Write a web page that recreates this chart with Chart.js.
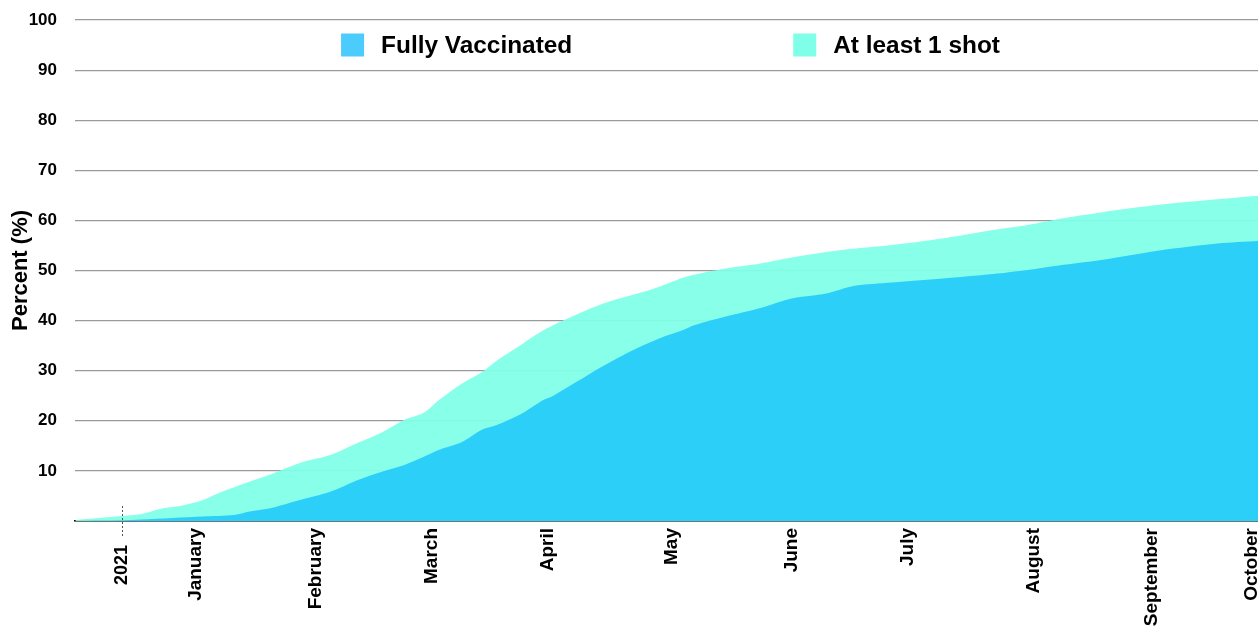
<!DOCTYPE html>
<html>
<head>
<meta charset="utf-8">
<script src="https://cdn.jsdelivr.net/npm/chart.js@4/dist/chart.umd.min.js"></script>
<style>
  html, body { margin: 0; padding: 0; background: #ffffff; overflow: hidden; }
  #wrap { position: relative; width: 1258px; height: 626px; }
</style>
</head>
<body>
<div id="wrap"><canvas id="chart" width="1258" height="626"></canvas></div>
<script>
// Days counted from 1 January 2021 (negative = December 2020)
const fullDays = [-12, 0, 5, 21, 29, 33, 38, 46, 54, 61, 67, 73, 78, 82, 88, 93, 97, 103, 109, 111, 116, 124, 132, 139, 145, 148, 156, 165, 173, 182, 189, 199, 212, 225, 234, 242, 253, 268, 283, 293.5];
const fullPct = [0, 0.1, 0.3, 0.9, 1.2, 1.9, 2.5, 4.2, 5.9, 8.2, 9.8, 11.2, 12.8, 14.2, 15.8, 18.2, 19.2, 21.3, 24.2, 24.8, 27.1, 30.8, 34.1, 36.5, 38.1, 39.1, 40.8, 42.5, 44.4, 45.4, 46.9, 47.6, 48.4, 49.3, 50.1, 51.0, 52.1, 54.0, 55.4, 55.9];

const shotDays = [-12, 0, 5, 11, 15, 21, 25, 32, 38, 46, 54, 61, 67, 73, 78, 82, 88, 93, 97, 103, 109, 116, 124, 129, 136, 139, 146, 156, 165, 173, 186, 199, 212, 225, 234, 242, 253, 268, 283, 293.5];
const shotPct = [0.2, 1.0, 1.4, 2.6, 3.0, 4.2, 5.6, 7.6, 9.2, 11.6, 13.2, 15.6, 17.6, 20.2, 21.6, 24.2, 27.5, 29.7, 32.1, 35.1, 38.1, 40.7, 43.3, 44.5, 46.0, 46.8, 48.8, 50.4, 51.4, 52.6, 54.1, 55.1, 56.4, 58.1, 59.1, 60.3, 61.6, 63.1, 64.2, 64.9];

const seriesNames = ['Fully Vaccinated', 'At least 1 shot'];

// Month label positions (days from 1 January 2021) and their names
const monthDays = [19, 50, 80, 110, 142, 173, 203, 235.5, 266, 292];
const monthNames = ['January', 'February', 'March', 'April', 'May', 'June', 'July', 'August', 'September', 'October'];

// Year marker
const yearDay = 0;
const yearLabel = '2021';

const yTicks = [0, 10, 20, 30, 40, 50, 60, 70, 80, 90, 100];
const yTitle = 'Percent (%)';

const FONT = "'Liberation Sans', Arial, Helvetica, sans-serif";

const toPoints = (xs, ys) => xs.map((x, i) => ({ x: x, y: ys[i] }));

// Legend drawn inside the top of the plot area
const areaLegend = {
  id: 'areaLegend',
  afterDraw(chart, args, opts) {
    const ctx = chart.ctx;
    const area = chart.chartArea;
    const box = opts.box, gap = opts.gap, spacing = opts.spacing;
    ctx.save();
    ctx.font = 'bold ' + opts.fontSize + 'px ' + FONT;
    const items = chart.data.datasets.map(ds => ({ text: ds.label, color: ds.legendColor || ds.backgroundColor }));
    const widths = items.map(it => box + gap + ctx.measureText(it.text).width);
    const total = widths.reduce((a, b) => a + b, 0) + spacing * (items.length - 1);
    let x = (area.left + area.right) / 2 - total / 2 + opts.shift;
    const cy = area.top + opts.offsetY;
    items.forEach((it, i) => {
      ctx.fillStyle = it.color;
      ctx.fillRect(x, cy - box / 2, box, box);
      ctx.fillStyle = '#000000';
      ctx.textBaseline = 'middle';
      ctx.textAlign = 'left';
      ctx.fillText(it.text, x + box + gap, cy + 1);
      x += widths[i] + spacing;
    });
    ctx.restore();
  }
};

// Year marker: dotted tick through the axis and its label below
const yearMarker = {
  id: 'yearMarker',
  afterDraw(chart) {
    const ctx = chart.ctx;
    const xs = chart.scales.x;
    const px = Math.round(xs.getPixelForValue(yearDay)) + 0.5;
    const base = chart.chartArea.bottom;
    ctx.save();
    ctx.strokeStyle = '#555555';
    ctx.lineWidth = 1;
    ctx.setLineDash([2, 2]);
    ctx.beginPath();
    ctx.moveTo(px, base - 15);
    ctx.lineTo(px, base + 17);
    ctx.stroke();
    ctx.setLineDash([]);
    ctx.translate(px, base + 24);
    ctx.rotate(-Math.PI / 2);
    ctx.font = 'bold 18px ' + FONT;
    ctx.fillStyle = '#000000';
    ctx.textAlign = 'right';
    ctx.textBaseline = 'middle';
    ctx.fillText(yearLabel, 0, 0);
    ctx.restore();
  }
};

new Chart(document.getElementById('chart'), {
  type: 'line',
  data: {
    datasets: [
      {
        label: seriesNames[0],
        data: toPoints(fullDays, fullPct),
        backgroundColor: 'rgba(38, 204, 250, 0.94)',
        legendColor: '#4ccbfd',
        borderWidth: 0,
        pointRadius: 0,
        fill: 'origin',
        tension: 0.3
      },
      {
        label: seriesNames[1],
        data: toPoints(shotDays, shotPct),
        backgroundColor: 'rgba(128, 255, 232, 0.94)',
        legendColor: '#80ffe8',
        borderWidth: 0,
        pointRadius: 0,
        fill: 'origin',
        tension: 0.3
      }
    ]
  },
  plugins: [areaLegend, yearMarker],
  options: {
    responsive: false,
    animation: false,
    events: [],
    layout: { padding: { top: 20, left: 0, right: 0, bottom: 0 } },
    plugins: {
      legend: { display: false },
      tooltip: { enabled: false },
      areaLegend: { box: 23, gap: 17, spacing: 221, fontSize: 24.4, offsetY: 25, shift: 4 }
    },
    scales: {
      x: {
        type: 'linear',
        min: -12.1,
        max: 293.5,
        grid: { display: false, drawTicks: false },
        border: { display: true, color: '#000000', width: 1.5 },
        afterBuildTicks(scale) {
          scale.ticks = monthDays.map(v => ({ value: v }));
        },
        afterFit(scale) {
          scale.height = 105;
          scale.paddingLeft = 0;
          scale.paddingRight = 0;
        },
        ticks: {
          autoSkip: false,
          minRotation: 90,
          maxRotation: 90,
          padding: 7,
          color: '#000000',
          font: { family: FONT, size: 19, weight: 'bold' },
          callback: (v, i) => monthNames[i]
        }
      },
      y: {
        min: 0,
        max: 100,
        afterBuildTicks(scale) {
          scale.ticks = yTicks.map(v => ({ value: v }));
        },
        afterFit(scale) {
          scale.width = 75;
          scale.paddingTop = 0;
          scale.paddingBottom = 0;
        },
        grid: { color: '#9a9a9a', lineWidth: 1.2, drawTicks: false },
        border: { display: false },
        ticks: {
          padding: 18,
          color: '#000000',
          font: { family: FONT, size: 17, weight: 'bold' },
          callback: v => (v === 0 ? '' : String(v))
        },
        title: {
          display: true,
          text: yTitle,
          color: '#000000',
          font: { family: FONT, size: 22, weight: 'bold' },
          padding: { top: 8, bottom: 0 }
        }
      }
    }
  }
});
</script>
</body>
</html>
